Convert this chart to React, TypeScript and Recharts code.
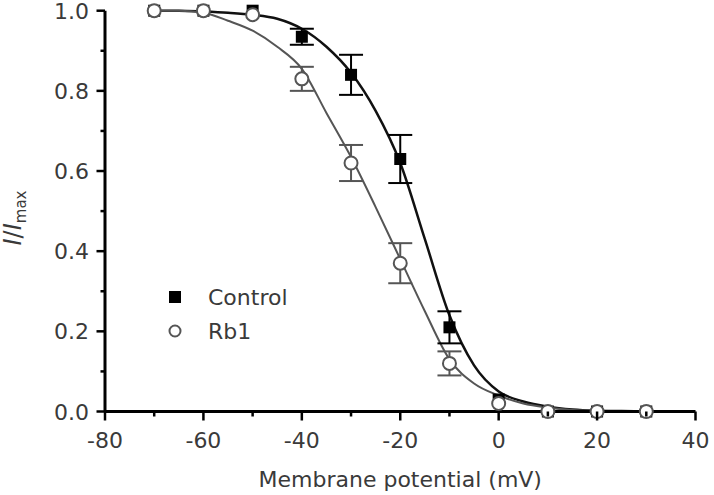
import { ComposedChart, Line, Scatter, ErrorBar, XAxis, YAxis } from 'recharts';

// measured points (mean, SEM)
const voltages = [-70, -60, -50, -40, -30, -20, -10, 0, 10, 20, 30];
const controlMean = [1.0, 1.0, 1.0, 0.935, 0.84, 0.63, 0.21, 0.03, 0.0, 0.0, 0.0];
const controlErr = [0, 0, 0, 0.02, 0.05, 0.06, 0.04, 0, 0, 0, 0];
const rb1Mean = [1.0, 1.0, 0.99, 0.83, 0.62, 0.37, 0.12, 0.02, 0.0, 0.0, 0.0];
const rb1Err = [0, 0, 0, 0.03, 0.045, 0.05, 0.03, 0, 0, 0, 0];

// fitted curves
const fitV = [-70, -65, -60, -55, -50, -45, -40, -35, -30, -25, -20, -15, -10, -5, 0, 5, 10, 15, 20, 25, 30];
const controlFit = [1.0, 1.0, 0.998, 0.995, 0.99, 0.98, 0.955, 0.91, 0.845, 0.75, 0.62, 0.43, 0.24, 0.115, 0.05, 0.025, 0.012, 0.005, 0.002, 0.001, 0];
const rb1Fit = [1.0, 1.0, 0.995, 0.975, 0.95, 0.91, 0.855, 0.745, 0.635, 0.51, 0.38, 0.25, 0.13, 0.07, 0.04, 0.02, 0.01, 0.004, 0.002, 0.001, 0];

const xTicks = [-80, -70, -60, -50, -40, -30, -20, -10, 0, 10, 20, 30, 40];
const yTicks = [0, 0.1, 0.2, 0.3, 0.4, 0.5, 0.6, 0.7, 0.8, 0.9, 1.0];

const controlPts = voltages.map((x, i) => ({ x, y: controlMean[i], err: controlErr[i] }));
const rb1Pts = voltages.map((x, i) => ({ x, y: rb1Mean[i], err: rb1Err[i] }));
const controlLine = fitV.map((x, i) => ({ x, y: controlFit[i] }));
const rb1Line = fitV.map((x, i) => ({ x, y: rb1Fit[i] }));

const W = 714;
const H = 495;
const LEFT = 105;
const TOP = 10.7;
const RIGHT = 18.5;
const AXIS_Y = 411.5;
const FONT = '"DejaVu Sans", sans-serif';
const TXT = '#3a3a3a';

const XTick = (props: any) => {
    const { x, payload } = props;
    const v = payload.value;
    const major = v % 20 === 0;
    return (
        <g>
            <line x1={x} x2={x} y1={AXIS_Y} y2={AXIS_Y + (major ? 9 : 5)} stroke="#000" strokeWidth={2.5} />
            {major && (
                <text x={x} y={AXIS_Y + 36.5} textAnchor="middle" fontSize={22} fontFamily={FONT} fill={TXT}>
                    {v}
                </text>
            )}
        </g>
    );
};

const YTick = (props: any) => {
    const { y, payload } = props;
    const v = payload.value;
    const major = Math.round(v * 10) % 2 === 0;
    return (
        <g>
            <line x1={LEFT - (major ? 8.5 : 4.5)} x2={LEFT} y1={y} y2={y} stroke="#000" strokeWidth={2.5} />
            {major && (
                <text x={89} y={y + 8} textAnchor="end" fontSize={22} fontFamily={FONT} fill={TXT}>
                    {v.toFixed(1)}
                </text>
            )}
        </g>
    );
};

const Square = (props: any) => <rect x={props.cx - 6} y={props.cy - 6} width={12} height={12} fill="#000" />;
const Ring = (props: any) => <circle cx={props.cx} cy={props.cy} r={6.5} fill="#fff" stroke="#555" strokeWidth={2} />;

const LegendBox = () => (
    <div style={{ position: 'absolute', left: 168, top: 280, fontFamily: FONT, fontSize: 22, color: TXT }}>
        <div style={{ display: 'flex', alignItems: 'center', height: 34 }}>
            <svg width={14} height={14}><rect x={1} y={1} width={12} height={12} fill="#000" /></svg>
            <span style={{ marginLeft: 26 }}>Control</span>
        </div>
        <div style={{ display: 'flex', alignItems: 'center', height: 34 }}>
            <svg width={14} height={14}><circle cx={7} cy={7} r={5.5} fill="#fff" stroke="#555" strokeWidth={2} /></svg>
            <span style={{ marginLeft: 26 }}>Rb1</span>
        </div>
    </div>
);

// axis titles, drawn on top of the chart
const Titles = () => (
    <svg width={W} height={H} style={{ position: 'absolute', left: 0, top: 0, pointerEvents: 'none' }}>
        <text x={LEFT + (W - LEFT - RIGHT) / 2} y={487} textAnchor="middle" fontSize={22} fontFamily={FONT} fill={TXT}>
            Membrane potential (mV)
        </text>
        <text transform="translate(21,218) rotate(-90)" textAnchor="middle" fontSize={24} fontFamily={FONT} fill={TXT}>
            <tspan fontStyle="italic">I</tspan>
            <tspan>/</tspan>
            <tspan fontStyle="italic">I</tspan>
            <tspan fontSize={15} dy={5}>max</tspan>
        </text>
    </svg>
);

export default function App() {
    return (
        <div style={{ position: 'absolute', left: 0, top: 0, width: W, height: H, background: '#fff' }}>
            <ComposedChart width={W} height={H} margin={{ top: TOP, right: RIGHT, left: LEFT - 60, bottom: H - AXIS_Y - 40 }}>
                <XAxis
                    type="number"
                    dataKey="x"
                    domain={[-80, 40]}
                    ticks={xTicks}
                    interval={0}
                    height={40}
                    tickLine={false}
                    tick={<XTick />}
                    axisLine={{ stroke: '#000', strokeWidth: 3 }}
                />
                <YAxis
                    type="number"
                    dataKey="y"
                    domain={[0, 1]}
                    ticks={yTicks}
                    interval={0}
                    width={60}
                    tickLine={false}
                    tick={<YTick />}
                    axisLine={{ stroke: '#000', strokeWidth: 3 }}
                />
                <Line data={controlLine} dataKey="y" type="monotone" stroke="#111" strokeWidth={2.5} dot={false} activeDot={false} isAnimationActive={false} />
                <Line data={rb1Line} dataKey="y" type="monotone" stroke="#555" strokeWidth={2} dot={false} activeDot={false} isAnimationActive={false} />
                <Scatter data={controlPts} dataKey="y" shape={<Square />} isAnimationActive={false}>
                    <ErrorBar dataKey="err" direction="y" width={12} stroke="#000" strokeWidth={2} />
                </Scatter>
                <Scatter data={rb1Pts} dataKey="y" shape={<Ring />} isAnimationActive={false}>
                    <ErrorBar dataKey="err" direction="y" width={12} stroke="#555" strokeWidth={2} />
                </Scatter>
            </ComposedChart>
            <Titles />
            <LegendBox />
        </div>
    );
}
